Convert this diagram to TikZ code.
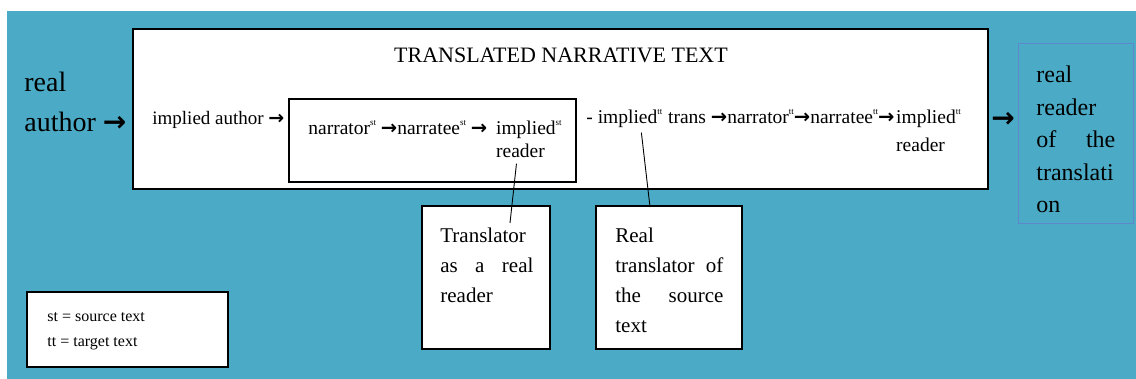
\documentclass[tikz,border=0pt]{standalone}
\usepackage{fontspec}
\setmainfont{Liberation Serif}
\newfontfamily\arrowfont{DejaVu Sans}
\usetikzlibrary{positioning}
\definecolor{panel}{RGB}{75,171,198}
\definecolor{edgeblue}{RGB}{95,135,205}
\newcommand\rarr{{\arrowfont\bfseries\char"2192}}
\newcommand\srcup{\raisebox{0.5em}{\fontsize{9}{9}\selectfont st}}
\newcommand\tgtup{\raisebox{0.5em}{\fontsize{9}{9}\selectfont tt}}

\begin{document}
\begin{tikzpicture}[x=1pt,y=-1pt,thick,
                    frame box/.style={draw,fill=white,line width=1.3pt,inner sep=0pt},
                    chain text/.style={inner sep=0pt,anchor=base west,font=\fontsize{19.5}{22}\selectfont},
                    box text/.style={inner sep=0pt,anchor=north west,align=left,font=\fontsize{21}{30}\selectfont},
                    big text/.style={inner sep=0pt,anchor=base west,font=\fontsize{28}{40}\selectfont}]

  \useasboundingbox (0,0) rectangle (1136,379);
  \fill[panel] (7,11) rectangle (1136,379);

  % boxes
  \node[frame box,minimum width=855pt,minimum height=160pt] (narrative) at (560.5,109) {};
  \node[frame box,minimum width=287pt,minimum height=83pt] (source) at (432.5,140.5) {};
  \node[draw=edgeblue,line width=0.8pt,minimum width=115pt,minimum height=180pt,inner sep=0pt] (realreader) at (1075.5,133) {};
  \node[frame box,minimum width=128pt,minimum height=143pt] (trreader) at (486,277.5) {};
  \node[frame box,minimum width=146pt,minimum height=143pt] (trsource) at (669,277.5) {};
  \node[frame box,minimum width=201pt,minimum height=75pt] (legend) at (127.5,329.5) {};

  % texts
  \node[inner sep=0pt,anchor=base,font=\fontsize{22}{24}\selectfont] (title) at (561,63) {TRANSLATED NARRATIVE TEXT};
  \node[big text] (real) at (24,92) {real};
  \node[big text] (author) at (24,132) {author \rarr};
  \node[chain text,font=\fontsize{19}{22}\selectfont] (implauthor) at (152,125) {implied author \rarr};
  \node[chain text] (chainst) at (308,135) {narrator\srcup\ \rarr narratee\srcup\ \rarr};
  \node[chain text,right=8pt of chainst.base east,anchor=base west] (implst) {implied\srcup};
  \node[chain text,below=23pt of implst.base west,anchor=base west] (readerst) {reader};
  \node[chain text] (impltt) at (586,124) {- implied\tgtup};
  \node[chain text,right=5pt of impltt.base east,anchor=base west] (chaintt) {trans \rarr narrator\tgtup\rarr narratee\tgtup\rarr};
  \node[chain text,right=1pt of chaintt.base east,anchor=base west] (impltt2) {implied\tgtup};
  \node[chain text,below=28pt of impltt2.base west,anchor=base west] (readertt) {reader};
  \node[inner sep=0pt,font=\fontsize{28}{28}\selectfont] (outarrow) at (1003,120) {\rarr};

  \node[box text,font=\fontsize{24}{32.5}\selectfont] (rrtext) at (1036,65.5)
    {real\\reader\\\makebox[79pt][s]{of the}\\translati\\on};
  \node[box text] (trtext) at (440,228)
    {Translator\\\makebox[93pt][s]{as a real}\\reader};
  \node[box text] (tstext) at (615,228)
    {Real\\\makebox[108pt][s]{translator of}\\\makebox[108pt][s]{the source}\\text};
  \node[box text,font=\fontsize{16}{25}\selectfont] (legendtext) at (47,312)
    {st = source text\\tt = target text};

  % connectors
  \coordinate (trfoot) at (510,223);
  \coordinate (tsfoot) at (650,207);
  \path (impltt.south) ++(17,4) coordinate (impltthead);
  \draw[line width=0.9pt] (readerst.south) ++(-4,5) -- (trfoot);
  \draw[line width=0.9pt] (impltthead) -- (tsfoot);
\end{tikzpicture}
\end{document}
